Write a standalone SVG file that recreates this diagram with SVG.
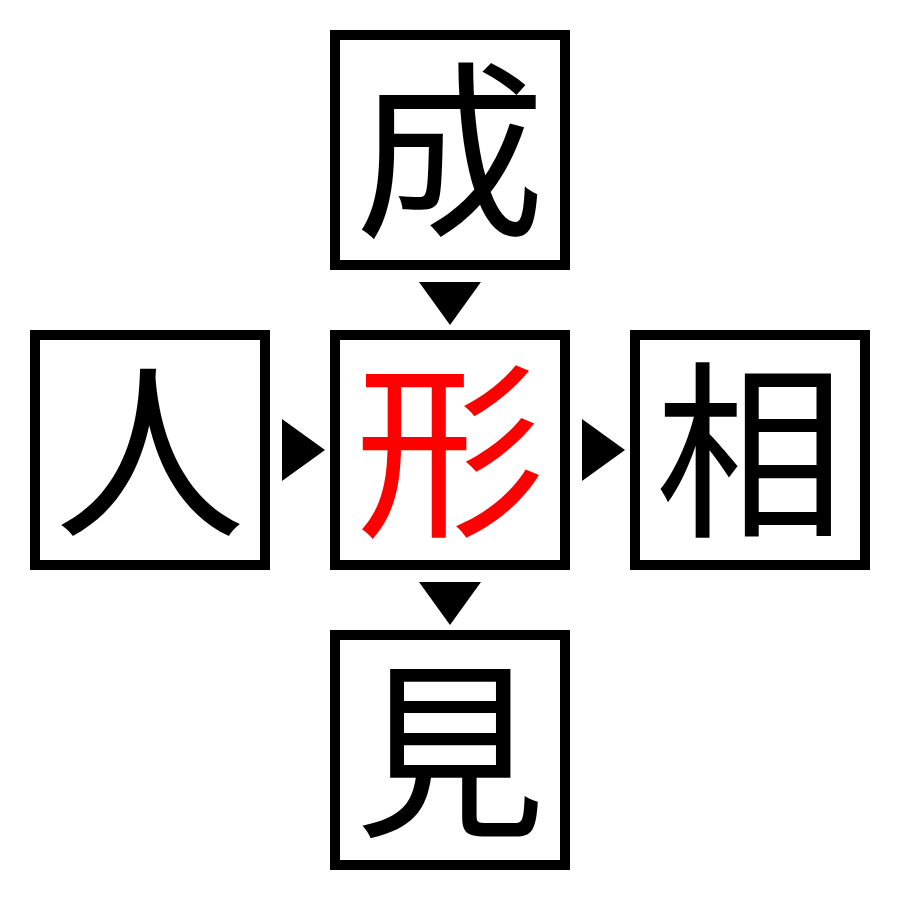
<svg xmlns="http://www.w3.org/2000/svg" width="900" height="900" viewBox="0 0 900 900">
<style>
.box{fill:#fff;stroke:#000;stroke-width:10}
.ch{font-family:"Noto Sans CJK JP","Noto Sans CJK SC",serif;font-size:190px;text-anchor:middle;fill:#000}
.red{fill:#f00}
.arr{fill:#000}
</style>
<rect width="900" height="900" fill="#fff"/>
<g id="node-top"><rect class="box" x="335" y="35" width="230" height="230"/><text class="ch" x="450" y="222">成</text></g>
<g id="node-left"><rect class="box" x="35" y="335" width="230" height="230"/><text class="ch" x="150" y="522">人</text></g>
<g id="node-center"><rect class="box" x="335" y="335" width="230" height="230"/><text class="ch red" x="450" y="522">形</text></g>
<g id="node-right"><rect class="box" x="635" y="335" width="230" height="230"/><text class="ch" x="750" y="522">相</text></g>
<g id="node-bottom"><rect class="box" x="335" y="635" width="230" height="230"/><text class="ch" x="450" y="822">見</text></g>
<g id="connectors">
<polygon class="arr" points="419,282 481,282 450,325"/>
<polygon class="arr" points="282,419 325,450 282,481"/>
<polygon class="arr" points="582,419 625,450 582,481"/>
<polygon class="arr" points="419,582 481,582 450,625"/>
</g>
</svg>
